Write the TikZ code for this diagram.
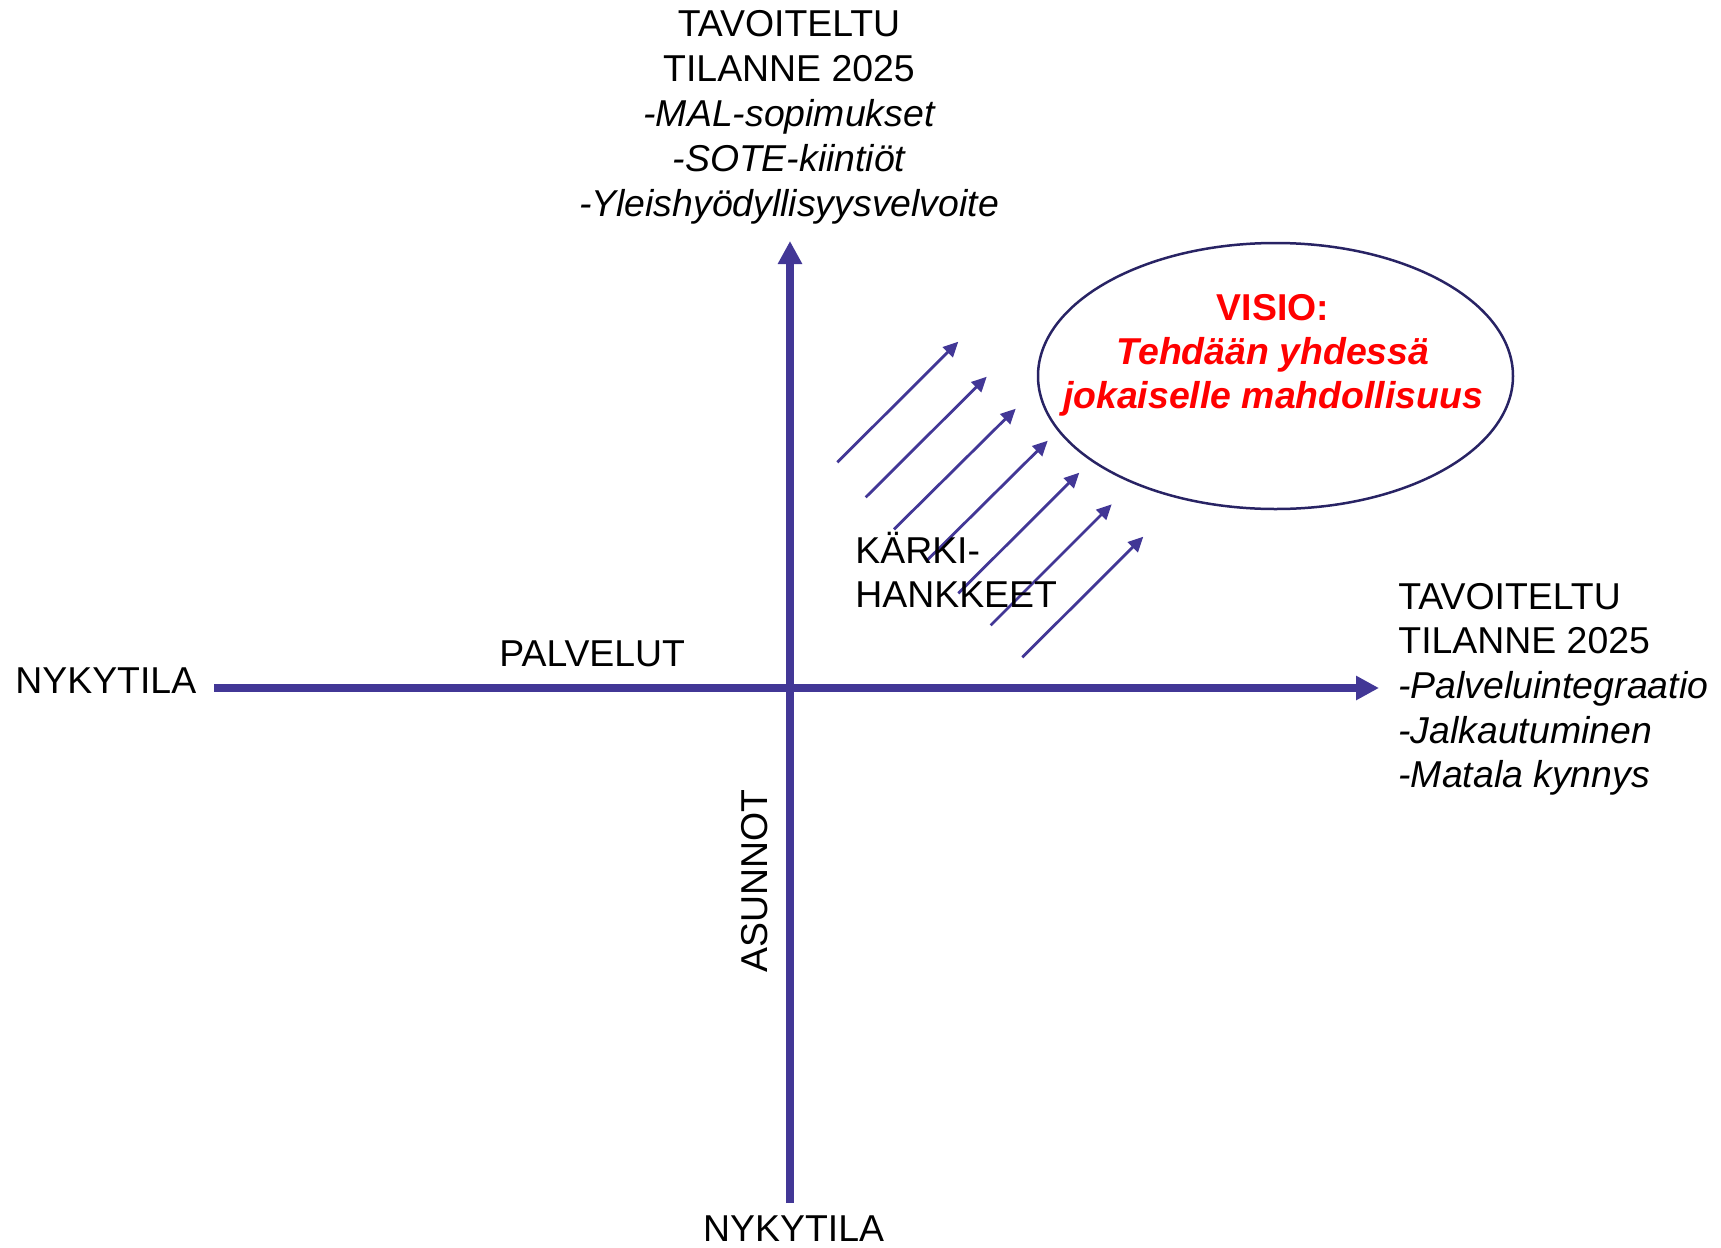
\documentclass[tikz,border=0pt]{standalone}
\usepackage{fontspec}
\setmainfont{Liberation Sans}
\usetikzlibrary{arrows.meta,shapes.geometric}
\definecolor{axiscol}{RGB}{66,55,150}
\definecolor{ellcol}{RGB}{40,35,100}
\definecolor{visred}{RGB}{255,0,0}
\begin{document}
\begin{tikzpicture}[x=0.5pt,y=-0.5pt,
  lbl/.style={inner sep=0pt,font=\fontsize{18.7pt}{21.65pt}\selectfont,text=black},
  ilbl/.style={lbl,font=\fontsize{18.7pt}{21.65pt}\selectfont\itshape},
  vlbl/.style={inner sep=0pt,font=\fontsize{18.7pt}{21.65pt}\selectfont\bfseries,text=visred},
  vilbl/.style={inner sep=0pt,font=\fontsize{18.7pt}{21.65pt}\selectfont\bfseries\itshape,text=visred},
  axis/.style={draw=axiscol,line width=4pt,-{Triangle[length=11.5pt,width=11.5pt]}},
  small/.style={draw=axiscol,line width=1.4pt,-{Triangle[length=7.5pt,width=7pt]}}]
\useasboundingbox (0,0) rectangle (1721,1248);
% axes
\coordinate (hL) at (214,688);
\coordinate (hR) at (1379,688);
\coordinate (vB) at (790,1203);
\coordinate (vT) at (790,241);
\draw[axis] (hL) -- (hR);
\draw[axis] (vB) -- (vT);
% small arrows
\coordinate (s1) at (837.3,462.3);  \coordinate (e1) at (958.3,341.7);
\coordinate (s2) at (865.7,497.3);  \coordinate (e2) at (986.7,376.7);
\coordinate (s3) at (894,529.3);    \coordinate (e3) at (1015.7,408.7);
\coordinate (s4) at (926.7,560.7);  \coordinate (e4) at (1047.7,440.7);
\coordinate (s5) at (958.3,593.3);  \coordinate (e5) at (1079.3,472.7);
\coordinate (s6) at (990.7,625.3);  \coordinate (e6) at (1111.7,504.3);
\coordinate (s7) at (1022.3,657.3); \coordinate (e7) at (1143.3,536.7);
\foreach \i in {1,...,7} {\draw[small] (s\i) -- (e\i);}
% ellipse
\node[ellipse,draw=ellcol,line width=1.25pt,minimum width=237.5pt,minimum height=133pt,inner sep=0pt] (visio) at (1275.5,376) {};
\node[vlbl,anchor=base] (v1) at (1273,320.4) {VISIO:};
\node[vilbl,anchor=base] (v2) at (1273,364.4) {Tehdään yhdessä};
\node[vilbl,anchor=base] (v3) at (1273,408.4) {jokaiselle mahdollisuus};
% top labels
\node[lbl,anchor=base] (t1) at (789,36) {TAVOITELTU};
\node[lbl,anchor=base] (t2) at (789,81) {TILANNE 2025};
\node[ilbl,anchor=base] (t3) at (789,126) {-MAL-sopimukset};
\node[ilbl,anchor=base] (t4) at (789,171) {-SOTE-kiintiöt};
\node[ilbl,anchor=base] (t5) at (789,216) {-Yleishyödyllisyysvelvoite};
% right labels
\node[lbl,anchor=base west] (r1) at (1398,609) {TAVOITELTU};
\node[lbl,anchor=base west] (r2) at (1398,653.7) {TILANNE 2025};
\node[ilbl,anchor=base west] (r3) at (1398,698.4) {-Palveluintegraatio};
\node[ilbl,anchor=base west] (r4) at (1398,743) {-Jalkautuminen};
\node[ilbl,anchor=base west] (r5) at (1398,787.8) {-Matala kynnys};
% other labels
\node[lbl,anchor=base west] (nL) at (15,693.3) {NYKYTILA};
\node[lbl,anchor=base west] (pal) at (499,666.5) {PALVELUT};
\node[lbl,anchor=base] (nB) at (793.6,1241) {NYKYTILA};
\node[lbl,anchor=base,rotate=90] (as) at (767,881) {ASUNNOT};
\node[lbl,anchor=base west] (k1) at (855,563.3) {KÄRKI-};
\node[lbl,anchor=base west] (k2) at (855,607.3) {HANKKEET};
\end{tikzpicture}
\end{document}
